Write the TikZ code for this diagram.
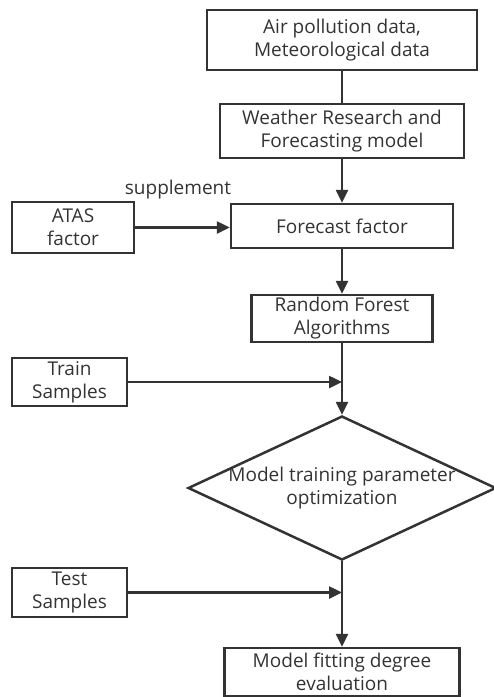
\documentclass[tikz,border=0pt]{standalone}
\usepackage{fontspec}
\setmainfont{Open Sans}
\usetikzlibrary{shapes.geometric,arrows.meta}
\definecolor{ink}{HTML}{333333}
\begin{document}
\begin{tikzpicture}[x=1pt,y=-1pt,
  lbl/.style={text=ink,font=\fontsize{19}{23}\selectfont,align=center},
  box/.style={lbl,draw=ink,line width=2.5pt,inner sep=0pt},
  dia/.style={draw=ink,line width=2.5pt,diamond,inner sep=0pt},
  conn/.style={draw=ink,line width=2.5pt},
  arr/.style={conn,-{Triangle[length=13pt,width=12pt]}}]
\useasboundingbox (0,0) rectangle (494,697);
\node[box,minimum width=270pt,minimum height=60pt] (b1) at (342,40) {Air pollution data,\\Meteorological data};
\node[box,minimum width=244pt,minimum height=54pt] (b2) at (342,131) {Weather Research and\\Forecasting model};
\node[box,minimum width=222pt,minimum height=44pt] (ff) at (342,226) {Forecast factor};
\node[box,minimum width=122pt,minimum height=51pt] (atas) at (73,227.5) {ATAS\\factor};
\node[lbl] (sup) at (178,190) {supplement};
\node[box,minimum width=181pt,minimum height=47pt] (rf) at (342,318.5) {Random Forest\\Algorithms};
\node[box,minimum width=115pt,minimum height=48pt] (train) at (69.5,382) {Train\\Samples};
\node[dia,minimum width=308pt,minimum height=144pt] (opt) at (342,488) {};
\node[lbl] (optt) at (opt.center) {Model training parameter\\optimization};
\node[box,minimum width=115pt,minimum height=49pt] (test) at (69.5,592.5) {Test\\Samples};
\node[box,minimum width=235pt,minimum height=48pt] (fit) at (342,672) {Model fitting degree\\evaluation};
\coordinate (j1) at (342,382);
\coordinate (j2) at (342,592.5);
\draw[conn] (b1) -- (b2);
\draw[arr] (b2) -- (ff);
\draw[arr] (atas) -- (ff.west |- atas);
\draw[arr] (ff) -- (rf);
\draw[conn] (rf) -- (j1);
\draw[arr] (j1) -- (opt.north);
\draw[arr] (train) -- (j1);
\draw[conn] (opt.south) -- (j2);
\draw[arr] (j2) -- (fit);
\draw[arr] (test) -- (j2);
\end{tikzpicture}
\end{document}
